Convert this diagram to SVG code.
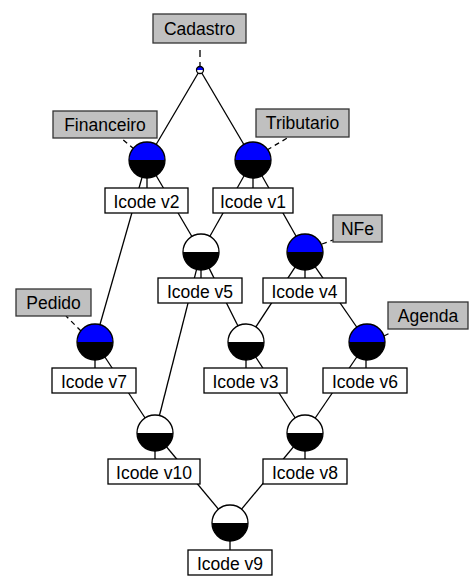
<svg xmlns="http://www.w3.org/2000/svg" width="476" height="584" viewBox="0 0 476 584">
<style>
.e{stroke:#000;stroke-width:1.3;fill:none}
.d{stroke:#000;stroke-width:1.3;fill:none;stroke-dasharray:5,4}
.ob{fill:#fff;stroke:#000;stroke-width:1.3}
.lb{fill:#c0c0c0;stroke:#333;stroke-width:1.3}
.t{font-family:"Liberation Sans",Arial,sans-serif;font-size:17.5px;fill:#000;text-anchor:middle}
.blue{fill:#0000ff}
.white{fill:#fff}
.blk{fill:#000}
.ring{fill:none;stroke:#000;stroke-width:1.3}
</style>
<defs>
<g id="bot"><path d="M-18,0 A18,18 0 0 0 18,0 Z" class="blk"/></g>
</defs>
<rect width="476" height="584" fill="#fff"/>
<g id="connectors">
<line class="e" x1="200" y1="70" x2="147" y2="160"/>
<line class="e" x1="200" y1="70" x2="253" y2="160"/>
<line class="e" x1="147" y1="160" x2="201" y2="252"/>
<line class="e" x1="147" y1="160" x2="95" y2="342"/>
<line class="e" x1="253" y1="160" x2="201" y2="252"/>
<line class="e" x1="253" y1="160" x2="305" y2="252"/>
<line class="e" x1="201" y1="252" x2="246" y2="342"/>
<line class="e" x1="201" y1="252" x2="155" y2="433"/>
<line class="e" x1="305" y1="252" x2="246" y2="342"/>
<line class="e" x1="305" y1="252" x2="367" y2="342"/>
<line class="e" x1="95" y1="342" x2="155" y2="433"/>
<line class="e" x1="246" y1="342" x2="305" y2="433"/>
<line class="e" x1="367" y1="342" x2="305" y2="433"/>
<line class="e" x1="155" y1="433" x2="230" y2="523"/>
<line class="e" x1="305" y1="433" x2="230" y2="523"/>
<line class="e" x1="147" y1="160" x2="147" y2="188"/>
<line class="e" x1="253" y1="160" x2="253" y2="188"/>
<line class="e" x1="201" y1="252" x2="201" y2="278"/>
<line class="e" x1="305" y1="252" x2="305" y2="278"/>
<line class="e" x1="95" y1="342" x2="95" y2="368"/>
<line class="e" x1="246" y1="342" x2="246" y2="368"/>
<line class="e" x1="366" y1="342" x2="366" y2="368"/>
<line class="e" x1="155" y1="433" x2="155" y2="459"/>
<line class="e" x1="305" y1="433" x2="305" y2="459"/>
<line class="e" x1="230" y1="523" x2="230" y2="550"/>
<line class="d" x1="200" y1="50" x2="200" y2="67" style="stroke-dasharray:7,5"/>
<line class="d" x1="134" y1="149" x2="121" y2="138"/>
<line class="d" x1="267" y1="150" x2="289" y2="137"/>
<line class="d" x1="322" y1="244" x2="333" y2="240"/>
<line class="d" x1="81" y1="331" x2="66" y2="316"/>
<line class="d" x1="384" y1="336" x2="390" y2="333"/>
</g>
<g id="n-top" transform="translate(200,70)">
<path d="M-3.5,0 A3.5,3.5 0 0 1 3.5,0 Z" class="blue"/>
<path d="M-3.5,0 A3.5,3.5 0 0 0 3.5,0 Z" class="white"/>
<circle r="3.5" class="ring" stroke-width="1"/>
</g>
<g id="n-fin">
<g transform="translate(147,160)"><path d="M-18,0 A18,18 0 0 1 18,0 Z" class="blue"/><use href="#bot"/><circle r="18" class="ring"/></g>
<rect class="ob" x="105" y="188" width="83" height="25"/>
<text class="t" x="146.5" y="208">Icode v2</text>
</g>
<g id="n-trib">
<g transform="translate(253,160)"><path d="M-18,0 A18,18 0 0 1 18,0 Z" class="blue"/><use href="#bot"/><circle r="18" class="ring"/></g>
<rect class="ob" x="213" y="188" width="80" height="25"/>
<text class="t" x="253" y="208">Icode v1</text>
</g>
<g id="n-v5">
<g transform="translate(201,252)"><path d="M-18,0 A18,18 0 0 1 18,0 Z" class="white"/><use href="#bot"/><circle r="18" class="ring"/></g>
<rect class="ob" x="158" y="278" width="84" height="25"/>
<text class="t" x="200" y="298">Icode v5</text>
</g>
<g id="n-nfe">
<g transform="translate(305,252)"><path d="M-18,0 A18,18 0 0 1 18,0 Z" class="blue"/><use href="#bot"/><circle r="18" class="ring"/></g>
<rect class="ob" x="263" y="278" width="83" height="25"/>
<text class="t" x="304.5" y="298">Icode v4</text>
</g>
<g id="n-ped">
<g transform="translate(95,342)"><path d="M-18,0 A18,18 0 0 1 18,0 Z" class="blue"/><use href="#bot"/><circle r="18" class="ring"/></g>
<rect class="ob" x="52" y="368" width="84" height="25"/>
<text class="t" x="94" y="388">Icode v7</text>
</g>
<g id="n-v3">
<g transform="translate(246,342)"><path d="M-18,0 A18,18 0 0 1 18,0 Z" class="white"/><use href="#bot"/><circle r="18" class="ring"/></g>
<rect class="ob" x="204" y="368" width="83" height="25"/>
<text class="t" x="245.5" y="388">Icode v3</text>
</g>
<g id="n-ag">
<g transform="translate(367,342)"><path d="M-18,0 A18,18 0 0 1 18,0 Z" class="blue"/><use href="#bot"/><circle r="18" class="ring"/></g>
<rect class="ob" x="323" y="368" width="84" height="25"/>
<text class="t" x="365" y="388">Icode v6</text>
</g>
<g id="n-v10">
<g transform="translate(155,433)"><path d="M-18,0 A18,18 0 0 1 18,0 Z" class="white"/><use href="#bot"/><circle r="18" class="ring"/></g>
<rect class="ob" x="108" y="459" width="92" height="25"/>
<text class="t" x="154" y="479">Icode v10</text>
</g>
<g id="n-v8">
<g transform="translate(305,433)"><path d="M-18,0 A18,18 0 0 1 18,0 Z" class="white"/><use href="#bot"/><circle r="18" class="ring"/></g>
<rect class="ob" x="263" y="459" width="84" height="25"/>
<text class="t" x="305" y="479">Icode v8</text>
</g>
<g id="n-v9">
<g transform="translate(230,523)"><path d="M-18,0 A18,18 0 0 1 18,0 Z" class="white"/><use href="#bot"/><circle r="18" class="ring"/></g>
<rect class="ob" x="188" y="550" width="84" height="25"/>
<text class="t" x="230" y="570">Icode v9</text>
</g>
<g id="l-cadastro"><rect class="lb" x="153" y="14" width="93" height="29"/><text class="t" x="199.5" y="35">Cadastro</text></g>
<g id="l-financeiro"><rect class="lb" x="53" y="111" width="104" height="27"/><text class="t" x="105" y="131">Financeiro</text></g>
<g id="l-tributario"><rect class="lb" x="256" y="109" width="93" height="28"/><text class="t" x="302.5" y="129">Tributario</text></g>
<g id="l-nfe"><rect class="lb" x="333" y="215" width="49" height="27"/><text class="t" x="357.5" y="235">NFe</text></g>
<g id="l-pedido"><rect class="lb" x="16" y="289" width="75" height="27"/><text class="t" x="53.5" y="309">Pedido</text></g>
<g id="l-agenda"><rect class="lb" x="388" y="302" width="80" height="27"/><text class="t" x="428" y="322">Agenda</text></g>
</svg>
